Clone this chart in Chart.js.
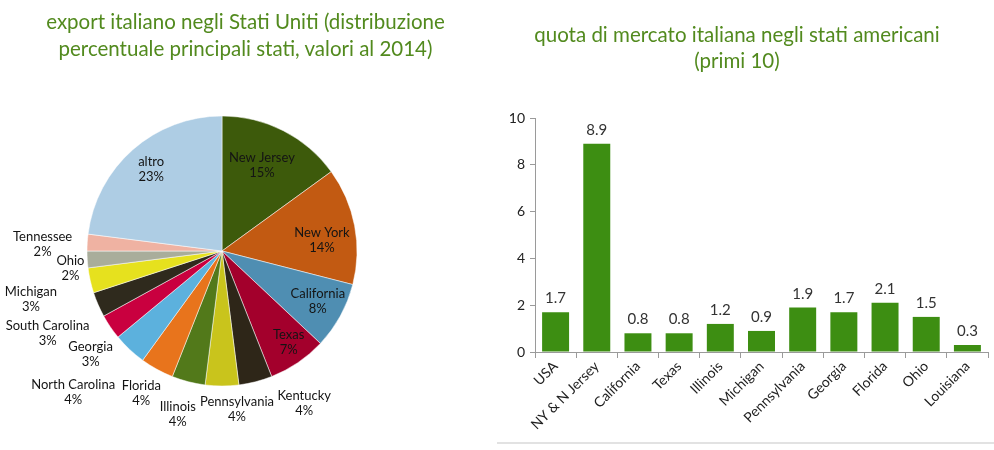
<!DOCTYPE html>
<html><head><meta charset="utf-8">
<script src="https://cdn.jsdelivr.net/npm/chart.js@4"></script>
<style>
html,body{margin:0;padding:0;background:#fff;}
body{width:994px;height:450px;position:relative;overflow:hidden;font-family:Lato,sans-serif;}
.title{position:absolute;text-align:center;color:#528a1e;font-family:Lato,sans-serif;font-size:20.5px;line-height:27px;white-space:nowrap;}
#pieWrap{position:absolute;left:0;top:0;width:491px;height:450px;}
#barWrap{position:absolute;left:497px;top:0;width:497px;height:450px;}
#rule{position:absolute;left:497px;top:442px;width:497px;height:2px;background:#e2e2e2;}
</style></head>
<body>
<div id="pieWrap"><canvas id="pie"></canvas></div>
<div id="barWrap"><canvas id="bar"></canvas></div>
<div id="rule"></div>
<div class="title" style="left:0;top:8px;width:491px;">export italiano negli Stati Uniti (distribuzione<br>percentuale principali stati, valori al 2014)</div>
<div class="title" style="left:497px;top:21px;width:480px;line-height:26px;">quota di mercato italiana negli stati americani<br>(primi 10)</div>
<script>
// ---- pie data ----
const pieLabels = ['New Jersey','New York','California','Texas','Kentucky','Pennsylvania','Illinois','Florida','North Carolina','Georgia','South Carolina','Michigan','Ohio','Tennessee','altro'];
const pieValues = [15,14,8,7,4,4,4,4,4,3,3,3,2,2,23];
const pieColors = ['#3d5a0b','#c25a12','#4f8eb2','#a3002c','#2e2618','#c9c41c','#52791a','#e8741c','#5cb1dd','#c9003f','#2f2a1d','#e6e11e','#a9ad9b','#efb2a2','#aecde4'];
// label placement: [radius factor, angle tweak in degrees]
const pieLabelPlacement = [[0.70,-2],[0.745,4.5],[0.80,-1.3],[0.84,-1.8],[1.28,-14],[1.18,-5.4],[1.25,0.8],[1.21,0.8],[1.52,3.3],[1.24,-4.1],[1.43,-2],[1.46,-1.6],[1.13,-3],[1.33,-1.4],[0.80,0.4]];

// ---- bar data ----
const barCategories = ['USA','NY & N Jersey','California','Texas','Illinois','Michigan','Pennsylvania','Georgia','Florida','Ohio','Louisiana'];
const barValues = [1.7,8.9,0.8,0.8,1.2,0.9,1.9,1.7,2.1,1.5,0.3];
const yTicks = [0,2,4,6,8,10];

const pieLabelPlugin = {
  id:'pieLabels',
  afterDatasetsDraw(chart){
    const ctx = chart.ctx; const meta = chart.getDatasetMeta(0);
    ctx.save();
    ctx.font = '13px Lato'; ctx.fillStyle = '#141414';
    ctx.textAlign = 'center'; ctx.textBaseline = 'middle';
    meta.data.forEach((arc,i)=>{
      const p = arc.getProps(['x','y','startAngle','endAngle','outerRadius'], true);
      const [f,dA] = pieLabelPlacement[i];
      const a = (p.startAngle+p.endAngle)/2 + dA*Math.PI/180;
      const r = p.outerRadius*f;
      const x = p.x + Math.cos(a)*r, y = p.y + Math.sin(a)*r;
      ctx.fillText(pieLabels[i], x, y-7.5);
      ctx.fillText(pieValues[i]+'%', x, y+7.5);
    });
    ctx.restore();
  }
};

new Chart(document.getElementById('pie'), {
  type:'pie',
  data:{labels:pieLabels, datasets:[{data:pieValues, backgroundColor:pieColors, borderColor:'rgba(255,255,255,0.5)', borderWidth:1, hoverOffset:0}]},
  options:{
    responsive:true, maintainAspectRatio:false, animation:false,
    radius:135,
    layout:{padding:{left:0,right:47,top:116,bottom:64}},
    plugins:{legend:{display:false}, tooltip:{enabled:false}}
  },
  plugins:[pieLabelPlugin]
});

const valueLabelPlugin = {
  id:'valueLabels',
  afterDatasetsDraw(chart){
    const ctx = chart.ctx; const meta = chart.getDatasetMeta(0);
    ctx.save();
    ctx.font = '15px Lato'; ctx.fillStyle = '#333';
    ctx.textAlign = 'center'; ctx.textBaseline = 'alphabetic';
    meta.data.forEach((bar,i)=>{
      ctx.fillText(barValues[i].toFixed(1), bar.x, bar.y-9);
    });
    ctx.restore();
  }
};

new Chart(document.getElementById('bar'), {
  type:'bar',
  data:{labels:barCategories, datasets:[{data:barValues, backgroundColor:'#3d8e12', barPercentage:0.655, categoryPercentage:1}]},
  options:{
    responsive:true, maintainAspectRatio:false, animation:false,
    layout:{padding:{left:0,right:6,top:118,bottom:0}},
    plugins:{legend:{display:false}, tooltip:{enabled:false}},
    scales:{
      x:{
        grid:{offset:true, drawOnChartArea:false, tickLength:6, color:'#9a9a9a'},
        border:{color:'#9a9a9a'},
        ticks:{minRotation:45, maxRotation:45, color:'#222', font:{family:'Lato', size:14}, padding:0},
        afterFit(s){ s.height = 98; }
      },
      y:{
        min:0, max:10,
        afterBuildTicks(s){ s.ticks = yTicks.map(v=>({value:v})); },
        ticks:{color:'#222', font:{family:'Lato', size:14}, padding:5},
        grid:{drawOnChartArea:false, tickLength:5, color:'#9a9a9a'},
        border:{color:'#9a9a9a'},
        afterFit(s){ s.width = 38; }
      }
    }
  },
  plugins:[valueLabelPlugin]
});
</script>
</body></html>
